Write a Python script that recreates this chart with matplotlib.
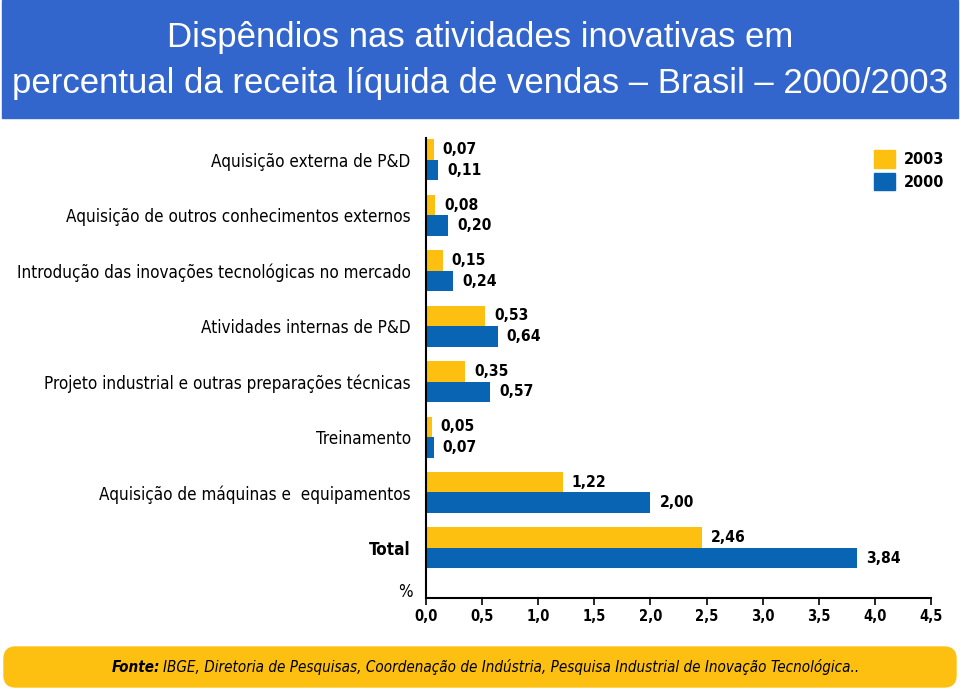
import matplotlib
matplotlib.use("Agg")
import matplotlib.pyplot as plt
from matplotlib import font_manager
from matplotlib.patches import Rectangle, FancyBboxPatch, Patch
from matplotlib.textpath import TextPath
import numpy as np


# =====================
# DADOS
# =====================

categorias = [
    "Aquisição externa de P&D",
    "Aquisição de outros conhecimentos externos",
    "Introdução das inovações tecnológicas no mercado",
    "Atividades internas de P&D",
    "Projeto industrial e outras preparações técnicas",
    "Treinamento",
    "Aquisição de máquinas e  equipamentos",
    "Total",
]

valores_2003 = [0.07, 0.08, 0.15, 0.53, 0.35, 0.05, 1.22, 2.46]
valores_2000 = [0.11, 0.20, 0.24, 0.64, 0.57, 0.07, 2.00, 3.84]

ticks_x = [0.0, 0.5, 1.0, 1.5, 2.0, 2.5, 3.0, 3.5, 4.0, 4.5]

AMARELO = "#FDC010"
AZUL = "#0A64B4"
AZUL_TITULO = "#3366CC"


# fonte estreita: DejaVu Sans Condensed se existir
fp_teste = font_manager.FontProperties(family="DejaVu Sans", stretch="condensed")
caminho = font_manager.findfont(fp_teste)
if "Condensed" in caminho:
    FONTE = {"family": "DejaVu Sans", "stretch": "condensed"}
else:
    FONTE = {"family": "Liberation Sans"}


def virgula(v, casas=2):
    return f"{v:.{casas}f}".replace(".", ",")


def tamanho_para(texto, largura_px, **kw):
    # tamanho (pt) para o texto ocupar largura_px a 100 dpi
    fp = font_manager.FontProperties(**FONTE, **kw)
    w = TextPath((0, 0), texto, size=10, prop=fp).get_extents().width
    return 10 * largura_px / (w * 100 / 72)


# =====================
# FIGURA
# =====================

fig = plt.figure(figsize=(9.6, 6.9), dpi=100)

# faixa azul do título
fig.patches.append(Rectangle((2 / 960, 1 - 118 / 690), 956 / 960, 118 / 690,
                             transform=fig.transFigure, color=AZUL_TITULO, zorder=0))

fig.text(0.5, 1 - 38 / 690, "Dispêndios nas atividades inovativas em",
         ha="center", va="center", color="white", fontsize=25,
         family="Liberation Sans")
fig.text(0.5, 1 - 84 / 690,
         "percentual da receita líquida de vendas – Brasil – 2000/2003",
         ha="center", va="center", color="white", fontsize=25,
         family="Liberation Sans")

# faixa amarela da fonte
fig.patches.append(FancyBboxPatch((4 / 960, 3 / 690), 952 / 960, 40 / 690,
                                  boxstyle="round,pad=0,rounding_size=0.012",
                                  transform=fig.transFigure, color=AMARELO,
                                  mutation_aspect=960 / 690, zorder=0))

fonte_txt = ("IBGE, Diretoria de Pesquisas, Coordenação de Indústria, "
             "Pesquisa Industrial de Inovação Tecnológica..")
tam_fonte = tamanho_para("Fonte: " + fonte_txt, 740, style="italic")
fig.text(112 / 960, 1 - 667 / 690, "Fonte:", ha="left", va="center",
         fontsize=tam_fonte, style="italic", weight="bold", **FONTE)
larg_fonte = TextPath((0, 0), "Fonte: ", size=tam_fonte,
                      prop=font_manager.FontProperties(**FONTE, style="italic",
                                                       weight="bold")).get_extents().width
fig.text(112 / 960 + larg_fonte * 100 / 72 / 960 + 4 / 960, 1 - 667 / 690, fonte_txt,
         ha="left", va="center", fontsize=tam_fonte, style="italic", **FONTE)

# =====================
# GRÁFICO
# =====================

ax = fig.add_axes([426 / 960, 92 / 690, 505 / 960, 460 / 690])

y = np.arange(len(categorias))
h = 0.37

ax.barh(y - h / 2, valores_2003, height=h, color=AMARELO, label="2003")
ax.barh(y + h / 2, valores_2000, height=h, color=AZUL, label="2000")

tam_valor = min(tamanho_para("0,07", 33, weight="bold"), 13)
for i in range(len(categorias)):
    ax.annotate(virgula(valores_2003[i]), (valores_2003[i], y[i] - h / 2),
                xytext=(9, 0), textcoords="offset pixels", va="center",
                ha="left", fontsize=tam_valor, weight="bold", **FONTE)
    ax.annotate(virgula(valores_2000[i]), (valores_2000[i], y[i] + h / 2),
                xytext=(9, 0), textcoords="offset pixels", va="center",
                ha="left", fontsize=tam_valor, weight="bold", **FONTE)

ax.set_xlim(0, 4.5)
ax.set_ylim(7.906, -0.397)

tam_tick = min(tamanho_para("0,0", 22, weight="bold"), 12)
ax.set_xticks(ticks_x)
ax.set_xticklabels([virgula(t, 1) for t in ticks_x], fontsize=tam_tick,
                   weight="bold", **FONTE)

tam_cat = tamanho_para(categorias[2], 391)
ax.set_yticks(y)
ax.set_yticklabels(categorias, fontsize=tam_cat, **FONTE)
ax.get_yticklabels()[-1].set_weight("bold")

ax.tick_params(axis="y", length=0, pad=11)
ax.tick_params(axis="x", direction="out", length=5, width=1.2, pad=3)

ax.spines["top"].set_visible(False)
ax.spines["right"].set_visible(False)
ax.spines["left"].set_linewidth(1.5)
ax.spines["bottom"].set_linewidth(1.5)

fig.text(405 / 960, 1 - 592 / 690, "%", ha="center", va="center",
         fontsize=tam_cat, **FONTE)

# legenda
tam_leg = tamanho_para("2003", 38, weight="bold")
ax.legend(handles=[Patch(color=AMARELO, label="2003"),
                   Patch(color=AZUL, label="2000")],
          loc="upper left", bbox_to_anchor=(860 / 960, 1 - 136 / 690),
          bbox_transform=fig.transFigure, frameon=False,
          handlelength=1.25, handleheight=1.25, handletextpad=0.6,
          labelspacing=0.35,
          prop=font_manager.FontProperties(**FONTE, weight="bold", size=tam_leg))

fig.savefig("out.png", dpi=100)
